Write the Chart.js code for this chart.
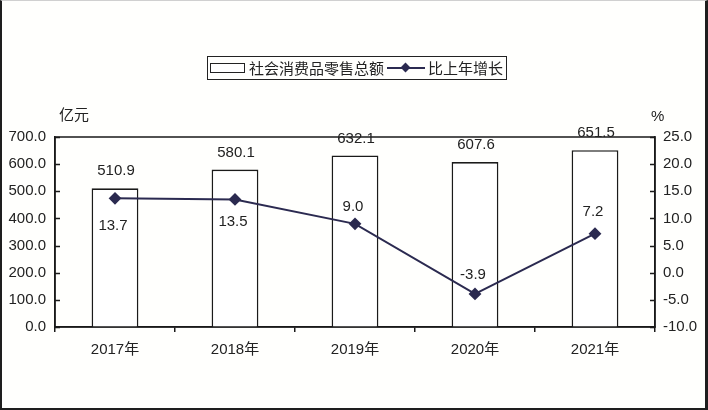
<!DOCTYPE html>
<html><head><meta charset="utf-8">
<script src="https://cdn.jsdelivr.net/npm/chart.js@4"></script>
<style>
html,body{margin:0;padding:0;background:#fff;}
#wrap{position:relative;width:708px;height:410px;overflow:hidden;background:#fffffd;}
#frame{position:absolute;left:0;top:0;width:708px;height:410px;box-sizing:border-box;border-left:2px solid #1e1e1e;border-right:3px solid #1e1e1e;border-bottom:2px solid #1e1e1e;border-top:1px solid #d0d0d0;pointer-events:none;}
.txt{position:absolute;font-family:'Noto Sans CJK SC','Liberation Sans',sans-serif;font-size:15px;color:#222;line-height:1;white-space:nowrap;}
#legend{position:absolute;left:207px;top:56px;width:300px;height:24px;box-sizing:border-box;border:1.5px solid #222;font-family:'Noto Sans CJK SC',sans-serif;font-size:15px;color:#222;}
#legend .rect{position:absolute;left:2px;top:6px;width:35px;height:10px;box-sizing:border-box;border:1.5px solid #222;background:#fff;}
#legend .line{position:absolute;left:179px;top:10px;width:38px;height:2px;background:#2b2a50;}
#legend .dia{position:absolute;left:194px;top:7px;width:7px;height:7px;background:#2b2a50;transform:rotate(45deg);}
#legend .t1{position:absolute;left:41px;top:2px;line-height:18px;}
#legend .t2{position:absolute;left:220px;top:2px;line-height:18px;}
</style></head>
<body>
<div id="wrap">
<canvas id="c" width="708" height="410"></canvas>
<div id="legend"><div class="rect"></div><span class="t1">社会消费品零售总额</span><div class="line"></div><div class="dia"></div><span class="t2">比上年增长</span></div>
<div class="txt" style="left:59px;top:106px;">亿元</div>
<div class="txt" style="left:651px;top:108px;font-family:'Liberation Sans',sans-serif;">%</div>
<div id="frame"></div>
</div>
<script>
const categories = ['2017年','2018年','2019年','2020年','2021年'];
const salesValues = [510.9, 580.1, 632.1, 607.6, 651.5];
const growthValues = [13.7, 13.5, 9.0, -3.9, 7.2];
const leftTicks = {min:0, max:700, step:100};
const rightTicks = {min:-10, max:25, step:5};
const seriesNames = ['社会消费品零售总额','比上年增长'];

const FONT = "'Liberation Sans','Noto Sans CJK SC',sans-serif";
const lineColor = '#2b2a50';

const extras = {
  id:'extras',
  afterDatasetsDraw(chart, args, opts){
    const ctx = chart.ctx, ca = chart.chartArea;
    ctx.save();
    // plot frame
    ctx.strokeStyle = '#1a1a1a'; ctx.lineWidth = 1.5;
    ctx.strokeRect(ca.left, ca.top, ca.right-ca.left, ca.bottom-ca.top);
    // inward ticks
    const y = chart.scales.y, y1 = chart.scales.y1;
    ctx.beginPath();
    y.ticks.forEach((t,i)=>{const p=Math.round(y.getPixelForTick(i))+0.5; ctx.moveTo(ca.left,p); ctx.lineTo(ca.left+5,p);});
    y1.ticks.forEach((t,i)=>{const p=Math.round(y1.getPixelForTick(i))+0.5; ctx.moveTo(ca.right,p); ctx.lineTo(ca.right-5,p);});
    ctx.stroke();
    // data labels
    ctx.font = '15px ' + FONT; ctx.fillStyle = '#222'; ctx.textAlign='center'; ctx.textBaseline='middle';
    const bm = chart.getDatasetMeta(0), lm = chart.getDatasetMeta(1);
    bm.data.forEach((el,i)=>{ ctx.fillText(salesValues[i].toFixed(1), el.x+1, el.y-17); });
    lm.data.forEach((el,i)=>{ ctx.fillText(growthValues[i].toFixed(1), el.x-2, el.y+opts.lineLabelOffsets[i]); });
    ctx.restore();
  }
};

new Chart(document.getElementById('c'), {
  data:{
    labels: categories,
    datasets:[
      {type:'bar', label:seriesNames[0], data:salesValues, yAxisID:'y', backgroundColor:'#ffffff', borderColor:'#1a1a1a', borderWidth:1.6, barPercentage:0.39, categoryPercentage:1, order:2},
      {type:'line', label:seriesNames[1], data:growthValues, yAxisID:'y1', borderColor:lineColor, backgroundColor:lineColor, borderWidth:2, pointStyle:'rectRot', pointRadius:5, pointBackgroundColor:lineColor, pointBorderColor:lineColor, tension:0, order:1}
    ]
  },
  options:{
    responsive:false, animation:false,
    layout:{padding:{top:137, left:0, right:0, bottom:0}},
    plugins:{legend:{display:false}, tooltip:{enabled:false}, extras:{lineLabelOffsets:[28,22,-17,-19,-22]}},
    scales:{
      x:{
        grid:{display:true, offset:true, drawOnChartArea:false, drawTicks:true, tickLength:5, color:'#1a1a1a', lineWidth:1.5},
        border:{display:true, color:'#1a1a1a', width:1.5},
        ticks:{font:{family:FONT,size:15}, color:'#222', padding:9, maxRotation:0},
        afterFit(s){ s.height = 410-327; }
      },
      y:{
        position:'left', min:leftTicks.min, max:leftTicks.max,
        grid:{display:false, drawTicks:false},
        border:{display:true, color:'#1a1a1a', width:1.5},
        ticks:{stepSize:leftTicks.step, font:{family:FONT,size:15}, color:'#222', padding:9, callback:v=>v.toFixed(1)},
        afterFit(s){ s.width = 55; }
      },
      y1:{
        position:'right', min:rightTicks.min, max:rightTicks.max,
        grid:{display:false, drawTicks:false},
        border:{display:true, color:'#1a1a1a', width:1.5},
        ticks:{stepSize:rightTicks.step, font:{family:FONT,size:15}, color:'#222', padding:8, callback:v=>v.toFixed(1)},
        afterFit(s){ s.width = 708-655; }
      }
    }
  },
  plugins:[extras]
});
</script>
</body></html>
